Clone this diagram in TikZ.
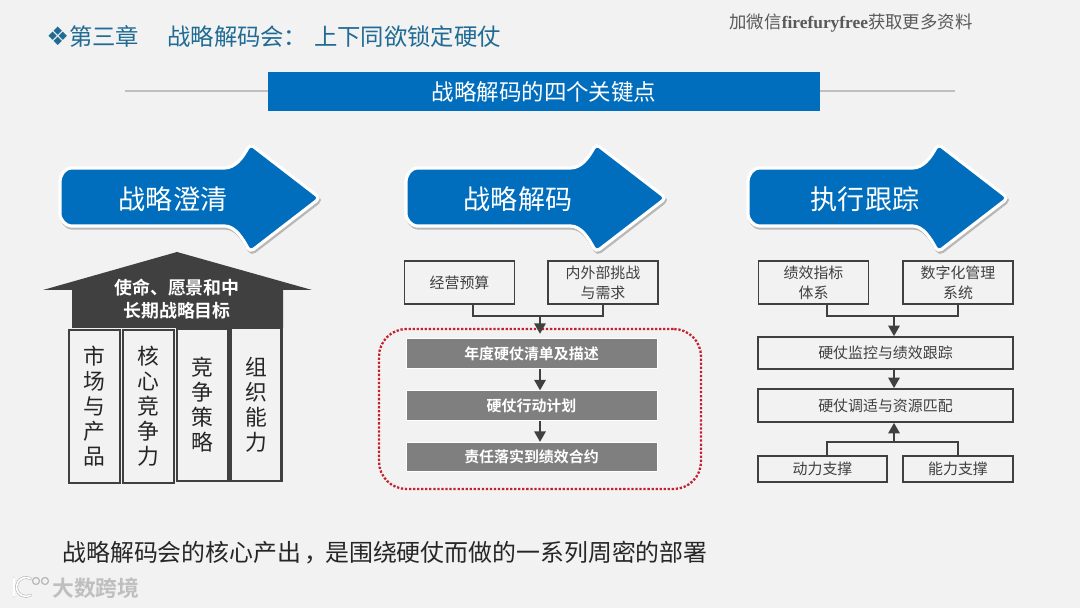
\documentclass[tikz,border=0pt]{standalone}
\usepackage{fontspec}
\setmainfont{Noto Sans CJK SC}[BoldFont={Noto Sans CJK SC Bold}]
\newfontfamily\symfont{DejaVu Sans}
\newfontfamily\latinfont{Liberation Serif}
\usepackage{xcolor}
\usetikzlibrary{arrows.meta}
\definecolor{pagebg}{HTML}{F2F2F2}
\definecolor{mainblue}{HTML}{006EBD}
\definecolor{titleblue}{HTML}{1F6B94}
\definecolor{darkgray}{HTML}{404040}
\definecolor{midgray}{HTML}{7F7F7F}
\definecolor{rulegray}{HTML}{BFBFBF}
\definecolor{dotred}{HTML}{C4202E}

\begin{document}
\begin{tikzpicture}[
    bigarrow/.pic={
        \draw[white, fill=mainblue, line width=1.8pt, rounded corners=2.5pt,
              preaction={draw=black!28, fill=black!28, line width=1.8pt, transform canvas={xshift=0.7pt, yshift=-1.2pt}}]
            (1.5,0.6) -- (3.2,0.6) .. controls (3.5,0.6) and (3.65,0.8) .. (3.8,1.08)
            -- (5.2,0) -- (3.8,-1.08) .. controls (3.65,-0.8) and (3.5,-0.56) .. (3.2,-0.56)
            -- (0.3,-0.56) .. controls (0.1,-0.56) and (0,-0.4) .. (0,-0.25)
            -- (0,0.25) .. controls (0,0.45) and (0.1,0.6) .. (0.3,0.6) -- cycle;
    },
    arrowlabel/.style={text=white, font=\fontsize{15.4pt}{18pt}\selectfont},
    pillar/.style={draw=darkgray, fill=pagebg, line width=1.2pt, minimum width=1.02cm,
                   minimum height=3.05cm, align=center, inner sep=0pt,
                   font=\fontsize{12.4pt}{14.2pt}\selectfont, text=black!85},
    plainbox/.style={draw=darkgray, fill=pagebg, line width=1pt, minimum width=2.2cm,
                     minimum height=0.86cm, align=center, inner sep=0pt,
                     font=\fontsize{8.5pt}{11.5pt}\selectfont, text=darkgray},
    graybar/.style={draw=white, fill=midgray, line width=0.4pt, minimum width=5.02cm,
                    minimum height=0.59cm, inner sep=0pt, text=white,
                    font=\fontsize{8.5pt}{11pt}\selectfont\bfseries},
    link/.style={draw=darkgray, line width=1.1pt},
    linkarrow/.style={draw=darkgray, line width=1.1pt, -{Triangle[length=6pt,width=6.5pt]}},
    logoline/.style={draw=black!28, double=white, line width=0.35pt, double distance=0.9pt, line cap=round},
]

% Fondo
\fill[pagebg] (0,0) rectangle (21.6,12.16);

% Titulo
\node[anchor=west, inner sep=0pt, text=titleblue, font=\fontsize{13.3pt}{16pt}\selectfont] (title) at (0.92,11.42)
    {{\symfont\fontsize{14.5pt}{16pt}\selectfont ❖}第三章\hspace{1.2em}战略解码会\hspace{-0.05em}：\hspace{0.33em}上下同欲锁定硬仗};
\node[text=black!65, inner sep=0pt, font=\fontsize{9.9pt}{12pt}\selectfont] (wechat) at (17.02,11.7)
    {加微信{\latinfont\bfseries firefuryfree}获取更多资料};

% Banda
\coordinate (ruleL) at (2.5,10.34);
\coordinate (ruleR) at (19.1,10.34);
\node[fill=mainblue, minimum width=11.04cm, minimum height=0.78cm, inner sep=0pt, text=white,
      font=\fontsize{12.8pt}{15pt}\selectfont] (banner) at (10.88,10.33) {战略解码的四个关键点};
\draw[rulegray, line width=1pt] (ruleL) -- (ruleL -| banner.west);
\draw[rulegray, line width=1pt] (ruleR -| banner.east) -- (ruleR);

% Flechas grandes
\pic at (1.2,8.2) {bigarrow};
\pic at (8.12,8.2) {bigarrow};
\pic at (14.96,8.2) {bigarrow};
\node[arrowlabel] (clarify) at (3.46,8.18) {战略澄清};
\node[arrowlabel] (decode) at (10.36,8.18) {战略解码};
\node[arrowlabel] (track) at (17.3,8.18) {执行跟踪};

% Casa
\fill[darkgray] (3.54,7.12) -- (6.24,6.36) -- (5.66,6.36) -- (5.66,5.6) -- (1.44,5.6)
    -- (1.44,6.36) -- (0.86,6.36) -- cycle;
\node[text=white, align=center, inner sep=0pt, font=\fontsize{10.2pt}{12.6pt}\selectfont\bfseries] (roof) at (3.54,6.18)
    {使命、愿景和中\\长期战略目标};

\node[pillar] (p1) at (1.89,4.03) {市\\场\\与\\产\\品};
\node[pillar] (p2) at (2.97,4.03) {核\\心\\竞\\争\\力};
\node[pillar] (p3) at (4.05,4.06) {竞\\争\\策\\略};
\node[pillar] (p4) at (5.12,4.07) {组\\织\\能\\力};

% Columna central
\node[plainbox] (b1) at (9.19,6.51) {经营预算};
\node[plainbox] (b2) at (12.06,6.51) {内外部挑战\\与需求};
\node[draw=dotred, densely dotted, line width=1.3pt, rounded corners=0.55cm,
      minimum width=6.44cm, minimum height=3.2cm] (frame) at (10.8,3.98) {};
\node[graybar] (g1) at (10.63,5.09) {年度硬仗清单及描述};
\node[graybar] (g2) at (10.63,4.05) {硬仗行动计划};
\node[graybar] (g3) at (10.63,3.02) {责任落实到绩效合约};
\coordinate (jm) at (10.8,5.84);

\draw[link] ([xshift=0.27cm]b1.south) |- (jm) -| (b2.south);
\draw[linkarrow, shorten >=2.6pt] (jm) -- (jm |- g1.north);
\draw[linkarrow] (g1.south -| jm) -- (g2.north -| jm);
\draw[linkarrow] (g2.south -| jm) -- (g3.north -| jm);

% Columna derecha
\node[plainbox] (c1) at (16.27,6.51) {绩效指标\\体系};
\node[plainbox] (c2) at (19.16,6.51) {数字化管理\\系统};
\node[plainbox, minimum width=5.1cm, minimum height=0.64cm] (w1) at (17.71,5.1) {硬仗监控与绩效跟踪};
\node[plainbox, minimum width=5.1cm, minimum height=0.66cm] (w2) at (17.71,4.05) {硬仗调适与资源匹配};
\node[plainbox, minimum width=2.58cm, minimum height=0.52cm] (d1) at (16.45,2.78) {动力支撑};
\node[plainbox, minimum height=0.52cm] (d2) at (19.16,2.78) {能力支撑};
\coordinate (jn) at (17.88,5.84);
\coordinate (jp) at (17.88,3.32);

\draw[link] ([xshift=0.27cm]c1.south) |- (jn) -| (c2.south);
\draw[linkarrow] (jn) -- (jn |- w1.north);
\draw[linkarrow] (w1.south -| jn) -- (w2.north -| jn);
\draw[link] ([xshift=0.09cm]d1.north) |- (jp) -| (d2.north);
\draw[linkarrow] (jp) -- (jp |- w2.south);

% Texto inferior
\node[anchor=west, inner sep=0pt, text=black!85, font=\fontsize{13.6pt}{16pt}\selectfont] (summary) at (1.24,1.1)
    {战略解码会的核心产出\hspace{0.12em}，\hspace{-0.12em}是围绕硬仗而做的一系列周密的部署};

% Marca de agua
\draw[logoline] (0.28,0.6) -- (0.28,0.24);
\draw[logoline] (0.615,0.585) arc (60:300:0.19);
\draw[black!28, line width=0.7pt] (0.72,0.54) circle (0.07);
\draw[black!28, line width=0.7pt] (0.9,0.54) circle (0.07);
\node[anchor=west, inner sep=0pt, text=black!25, font=\fontsize{12.4pt}{14pt}\selectfont\bfseries] (brand) at (1.04,0.4) {大数跨境};

\end{tikzpicture}
\end{document}
